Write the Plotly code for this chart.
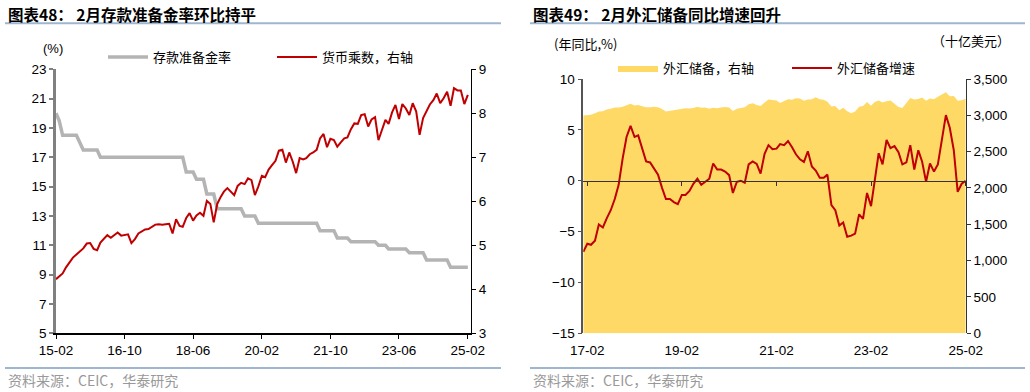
import plotly.graph_objects as go
import pandas as pd

W, H = 1030, 392

# ---------------- Left chart data (2015-02 .. 2025-02, monthly) ----------------
rrr_months = pd.date_range("2015-02-01", "2025-02-01", freq="MS")
rrr = [
    20.0, 19.5, 18.5, 18.5, 18.5, 18.5, 18.5, 18.0, 17.5, 17.5, 17.5,              # 2015 Feb-Dec
    17.5, 17.5, 17.0, 17.0, 17.0, 17.0, 17.0, 17.0, 17.0, 17.0, 17.0, 17.0,        # 2016
    17.0, 17.0, 17.0, 17.0, 17.0, 17.0, 17.0, 17.0, 17.0, 17.0, 17.0, 17.0,        # 2017
    17.0, 17.0, 17.0, 16.0, 16.0, 16.0, 15.5, 15.5, 15.5, 14.5, 14.5, 14.5,        # 2018
    13.5, 13.5, 13.5, 13.5, 13.5, 13.5, 13.5, 13.5, 13.0, 13.0, 13.0, 13.0,        # 2019
    12.5, 12.5, 12.5, 12.5, 12.5, 12.5, 12.5, 12.5, 12.5, 12.5, 12.5, 12.5,        # 2020
    12.5, 12.5, 12.5, 12.5, 12.5, 12.5, 12.0, 12.0, 12.0, 12.0, 12.0, 11.5,        # 2021
    11.5, 11.5, 11.5, 11.25, 11.25, 11.25, 11.25, 11.25, 11.25, 11.25, 11.25, 11.0,  # 2022
    11.0, 11.0, 10.75, 10.75, 10.75, 10.75, 10.75, 10.75, 10.5, 10.5, 10.5, 10.5,  # 2023
    10.5, 10.0, 10.0, 10.0, 10.0, 10.0, 10.0, 10.0, 9.5, 9.5, 9.5, 9.5,            # 2024
    9.5, 9.5,                                                                      # 2025
]
mult = [
    4.23, 4.30, 4.36, 4.50, 4.62, 4.72, 4.79, 4.86, 4.93, 5.04, 5.05,
    4.92, 4.89, 5.06, 5.16, 5.23, 5.17, 5.24, 5.29, 5.22, 5.23, 5.25, 5.05,
    5.14, 5.27, 5.31, 5.36, 5.37, 5.42, 5.47, 5.48, 5.47, 5.48, 5.49, 5.27,
    5.59, 5.44, 5.42, 5.62, 5.73, 5.56, 5.68, 5.74, 5.67, 6.01, 5.94, 5.52,
    5.94, 6.10, 6.22, 6.30, 6.22, 6.14, 6.35, 6.42, 6.39, 6.52, 6.48, 6.14,
    6.34, 6.58, 6.55, 6.72, 6.82, 6.92, 7.15, 7.17, 6.88, 7.11, 6.90, 6.64,
    6.98, 6.95, 6.98, 7.07, 7.11, 7.17, 7.43, 7.53, 7.23, 7.42, 7.39, 7.24,
    7.34, 7.43, 7.45, 7.64, 7.77, 7.76, 7.96, 7.98, 7.70, 7.86, 7.91, 7.39,
    7.62, 7.85, 7.76, 8.02, 8.19, 7.87, 8.21, 8.11, 7.96, 8.23, 8.04, 7.51,
    7.89, 8.04, 8.20, 8.30, 8.45, 8.23, 8.34, 8.49, 8.17, 8.57, 8.52, 8.52,
    8.21, 8.42,
]
left_tick_dates = ["2015-02-01", "2016-10-01", "2018-06-01", "2020-02-01",
                   "2021-10-01", "2023-06-01", "2025-02-01"]
left_tick_text = ["15-02", "16-10", "18-06", "20-02", "21-10", "23-06", "25-02"]

# ---------------- Right chart data (2017-01 .. 2025-02, monthly) ----------------
fx_months = pd.date_range("2017-01-01", "2025-02-01", freq="MS")
fx_res = [
    2998, 3005, 3009, 3030, 3054, 3057, 3081, 3092, 3109, 3109, 3119, 3140,
    3161, 3134, 3143, 3125, 3111, 3112, 3118, 3110, 3087, 3053, 3062, 3073,
    3088, 3090, 3099, 3095, 3101, 3119, 3104, 3107, 3092, 3105, 3096, 3108,
    3115, 3107, 3061, 3091, 3102, 3112, 3154, 3165, 3143, 3128, 3178, 3217,
    3211, 3205, 3170, 3198, 3222, 3214, 3236, 3232, 3201, 3218, 3222, 3250,
    3222, 3214, 3188, 3120, 3128, 3071, 3104, 3055, 3029, 3052, 3117, 3128,
    3184, 3133, 3184, 3205, 3177, 3193, 3204, 3160, 3115, 3101, 3172, 3238,
    3219, 3226, 3246, 3201, 3232, 3222, 3256, 3288, 3316, 3261, 3266, 3202,
    3209, 3227,
]
fx_yoy = [
    -7.0, -6.2, -6.3, -5.9, -4.3, -4.6, -3.7, -2.9, -1.8, -0.4, 2.2, 4.3,
    5.4, 4.3, 4.45, 3.1, 1.9, 1.8, 1.2, 0.6, -0.7, -1.8, -1.8, -2.1,
    -2.3, -1.4, -1.4, -1.0, -0.3, 0.2, -0.4, -0.1, 0.2, 1.7, 1.1, 1.1,
    0.9, 0.55, -1.2, -0.1, 0.0, -0.2, 1.6, 1.9, 1.65, 0.7, 2.65, 3.5,
    3.1, 3.15, 3.6, 3.5, 3.9, 3.3, 2.6, 2.1, 1.85, 2.9, 1.4, 1.0,
    0.3, 0.3, 0.6, -2.4, -2.9, -4.4, -4.1, -5.5, -5.4, -5.2, -3.3, -3.75,
    -1.2, -2.5, -0.1, 2.7, 1.6, 4.0, 3.2, 3.4, 2.8, 1.6, 1.8, 3.5,
    1.1, 3.0, 1.9, -0.1, 1.7, 0.9, 1.6, 4.05, 6.45, 5.2, 3.0, -1.1,
    -0.3, 0.0,
]
right_tick_dates = ["2017-02-01", "2019-02-01", "2021-02-01", "2023-02-01", "2025-02-01"]
right_tick_text = ["17-02", "19-02", "21-02", "23-02", "25-02"]

# ---------------- helpers ----------------
def px(x):
    return x / W

def py(y):
    return 1 - y / H

CJK = "Noto Sans CJK SC"
NUM = "Liberation Sans"
RED = "#c00000"
GREY = "#b4b4b4"
GOLD = "#ffd966"
SEP = "#9fb6d0"

L_DOM_X = [px(56), px(471)]
R_DOM_X = [px(583.3), px(965.7)]
L_DOM_Y = [py(333.3), py(69.3)]
R_DOM_Y = [py(333.3), py(79)]
zero_pos = R_DOM_Y[0] + (15 / 25) * (R_DOM_Y[1] - R_DOM_Y[0])

fig = go.Figure()
fig.add_trace(go.Scatter(x=rrr_months, y=rrr, name="存款准备金率", mode="lines",
                         line=dict(color=GREY, width=3.5), xaxis="x", yaxis="y",
                         legend="legend"))
fig.add_trace(go.Scatter(x=rrr_months, y=mult, name="货币乘数，右轴", mode="lines",
                         line=dict(color=RED, width=2), xaxis="x", yaxis="y2",
                         legend="legend"))
fig.add_trace(go.Scatter(x=fx_months, y=fx_res, name="外汇储备，右轴", mode="lines",
                         fill="tozeroy", fillcolor=GOLD,
                         line=dict(color=GOLD, width=0), xaxis="x2", yaxis="y3",
                         legend="legend2"))
fig.add_trace(go.Scatter(x=fx_months, y=fx_yoy, name="外汇储备增速", mode="lines",
                         line=dict(color=RED, width=2), xaxis="x2", yaxis="y4",
                         legend="legend2"))
fig.add_trace(go.Scatter(x=[fx_months[0]], y=[None], mode="lines", showlegend=False,
                         hoverinfo="skip", xaxis="x3", yaxis="y4"))

tickfont = dict(family=NUM, size=13.5, color="#000000")

fig.update_layout(
    width=W, height=H, autosize=False,
    margin=dict(l=0, r=0, t=0, b=0, pad=0, autoexpand=False),
    paper_bgcolor="white", plot_bgcolor="rgba(0,0,0,0)",
    showlegend=True,
    xaxis=dict(domain=L_DOM_X, anchor="y", type="date",
               range=["2015-02-01", "2025-03-01"],
               tickvals=left_tick_dates, ticktext=left_tick_text,
               ticks="outside", ticklen=4, tickcolor="#000", tickwidth=1,
               showline=True, linecolor="#000", linewidth=1.5,
               showgrid=False, zeroline=False, tickfont=tickfont, automargin=False),
    yaxis=dict(domain=L_DOM_Y, anchor="x", range=[5, 23], dtick=2, tick0=5,
               ticks="outside", ticklen=4, tickcolor="#808080", tickwidth=1.5,
               showline=True, linecolor="#808080", linewidth=2.5,
               showgrid=False, zeroline=False, tickfont=tickfont, automargin=False),
    yaxis2=dict(overlaying="y", side="right", anchor="x", range=[3, 9], dtick=1,
                ticks="outside", ticklen=4, tickcolor="#000", tickwidth=1,
                showline=True, linecolor="#000", linewidth=1,
                showgrid=False, zeroline=False, tickfont=tickfont, automargin=False),
    xaxis2=dict(domain=R_DOM_X, anchor="y3", type="date",
                range=["2017-01-01", "2025-02-01"],
                tickvals=right_tick_dates, ticktext=right_tick_text,
                ticks="", showline=False, showgrid=False, zeroline=False,
                ticklabelstandoff=7,
                tickfont=tickfont, automargin=False),
    xaxis3=dict(overlaying="x2", anchor="free", position=zero_pos, type="date",
                range=["2017-01-01", "2025-02-01"],
                tickvals=right_tick_dates, showticklabels=False,
                ticks="outside", ticklen=4, tickcolor="#333", tickwidth=1,
                showline=True, linecolor="#333", linewidth=1,
                showgrid=False, zeroline=False, automargin=False),
    yaxis3=dict(domain=R_DOM_Y, anchor="x2", side="right", range=[0, 3500], dtick=500,
                tickformat=",", ticks="outside", ticklen=4, tickcolor="#333",
                tickwidth=1, showline=True, linecolor="#333", linewidth=1,
                showgrid=False, zeroline=False, tickfont=tickfont, automargin=False),
    yaxis4=dict(overlaying="y3", side="left", anchor="x2", range=[-15, 10], dtick=5,
                ticks="outside", ticklen=4, tickcolor="#555", tickwidth=1,
                showline=True, linecolor="#555", linewidth=1.5,
                showgrid=False, zeroline=False, tickfont=tickfont, automargin=False),
    legend=dict(orientation="h", x=px(103), y=py(57), xanchor="left", yanchor="middle",
                font=dict(family=CJK, size=13, color="#000"), bgcolor="rgba(0,0,0,0)",
                itemwidth=40, entrywidth=114, borderwidth=0),
    legend2=dict(orientation="h", x=px(613), y=py(68), xanchor="left", yanchor="middle",
                 font=dict(family=CJK, size=13, color="#000"), bgcolor="rgba(0,0,0,0)",
                 itemwidth=40, entrywidth=119, borderwidth=0),
)

annotations = [
    dict(text="<b>图表48： 2月存款准备金率环比持平</b>", x=px(6), y=py(14), xanchor="left",
         yanchor="middle", font=dict(family=CJK, size=15.5, color="#000")),
    dict(text="<b>图表49： 2月外汇储备同比增速回升</b>", x=px(531), y=py(14), xanchor="left",
         yanchor="middle", font=dict(family=CJK, size=15.5, color="#000")),
    dict(text="(%)", x=px(53), y=py(48), xanchor="center", yanchor="middle",
         font=dict(family=NUM, size=13, color="#000")),
    dict(text="(年同比,%)", x=px(552), y=py(43), xanchor="left", yanchor="middle",
         font=dict(family=CJK, size=13, color="#000")),
    dict(text="（十亿美元）", x=px(1012), y=py(40), xanchor="right", yanchor="middle",
         font=dict(family=CJK, size=13, color="#000")),
    dict(text="资料来源：CEIC，华泰研究", x=px(6), y=py(380), xanchor="left",
         yanchor="middle", font=dict(family=CJK, size=14, color="#999999")),
    dict(text="资料来源：CEIC，华泰研究", x=px(531), y=py(380), xanchor="left",
         yanchor="middle", font=dict(family=CJK, size=14, color="#999999")),
]
for a in annotations:
    a.update(xref="paper", yref="paper", showarrow=False)
fig.update_layout(annotations=annotations)

shapes = []
for (x0, x1) in [(5, 501), (530, 1025)]:
    for yy in (23.3, 368):
        shapes.append(dict(type="line", xref="paper", yref="paper",
                           x0=px(x0), x1=px(x1), y0=py(yy), y1=py(yy),
                           line=dict(color=SEP, width=2)))
fig.update_layout(shapes=shapes)

fig.write_html("out.html", config={"displayModeBar": False},
               post_script="document.body.style.margin='0px';document.body.style.overflow='hidden';")
